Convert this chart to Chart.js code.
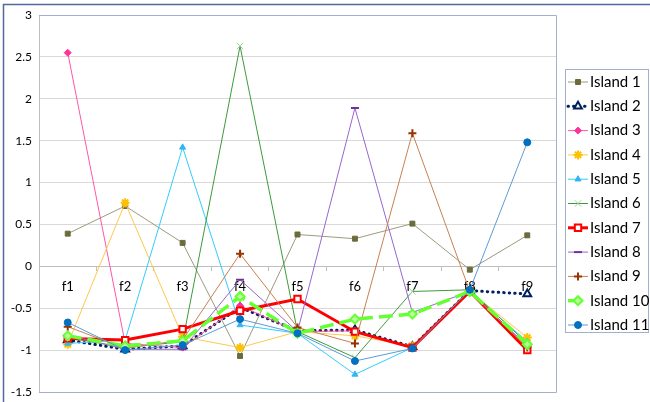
<!DOCTYPE html>
<html>
<head>
<meta charset="utf-8">
<script src="https://cdn.jsdelivr.net/npm/chart.js@4"></script>
<style>
  body { margin: 0; background: #fff; }
  #wrap { width: 650px; height: 402px; }
</style>
</head>
<body>
<div id="wrap"><canvas id="myChart" width="650" height="402"></canvas></div>
<script>
const categories = ['f1', 'f2', 'f3', 'f4', 'f5', 'f6', 'f7', 'f8', 'f9'];
const yTicks = [3, 2.5, 2, 1.5, 1, 0.5, 0, -0.5, -1, -1.5];

const island1 = [0.39, 0.72, 0.28, -1.07, 0.38, 0.33, 0.51, -0.04, 0.37];
const island2 = [-0.88, -0.99, -0.95, -0.49, -0.77, -0.76, -0.96, -0.29, -0.33];
const island3 = [2.55, -0.92, -0.97, -0.47, -0.78, -0.77, -0.97, -0.3, -0.96];
const island4 = [-0.93, 0.76, -0.84, -0.97, -0.78, -0.83, -0.95, -0.3, -0.85];
const island5 = [-0.92, -0.88, 1.42, -0.7, -0.8, -1.29, -0.97, -0.3, -0.9];
const island6 = [-0.85, -0.97, -0.9, 2.63, -0.78, -1.09, -0.3, -0.28, -0.92];
const island7 = [-0.86, -0.88, -0.75, -0.53, -0.39, -0.78, -0.97, -0.3, -1.0];
const island8 = [-0.82, -0.99, -0.99, -0.16, -0.78, 1.89, -0.55, -0.3, -0.95];
const island9 = [-0.72, -0.98, -0.88, 0.15, -0.73, -0.92, 1.59, -0.3, -0.97];
const island10 = [-0.83, -0.95, -0.89, -0.36, -0.8, -0.63, -0.57, -0.3, -0.93];
const island11 = [-0.67, -1.0, -0.94, -0.63, -0.8, -1.13, -0.98, -0.28, 1.48];

const font = 'Lato';

function series(label, data, line, opts) {
  return Object.assign({
    label: label,
    data: data,
    borderColor: line,
    borderWidth: 1,
    pointRadius: 3.5,
    pointBorderWidth: 1,
    tension: 0,
    fill: false
  }, opts);
}

const datasets = [
  series('Island 1', island1, '#9b9b7d', { pointStyle: 'rect', pointBackgroundColor: '#6b6b3c', pointBorderColor: '#6b6b3c', pointRadius: 3.5 }),
  series('Island 2', island2, '#002060', { borderWidth: 3, borderDash: [0.5, 5], borderCapStyle: 'round', pointStyle: 'triangle', pointRadius: 4.5, pointBorderWidth: 2, pointBackgroundColor: '#fff', pointBorderColor: '#002060' }),
  series('Island 3', island3, '#ff55aa', { pointStyle: 'rectRot', pointRadius: 3.5, pointBackgroundColor: '#ff3399', pointBorderColor: '#ff3399' }),
  series('Island 4', island4, '#ffc84a', { pointStyle: 'star', pointRadius: 4.5, pointBorderWidth: 2, pointBackgroundColor: '#ffc000', pointBorderColor: '#ffc000' }),
  series('Island 5', island5, '#33ccff', { pointStyle: 'triangle', pointRadius: 3.5, pointBackgroundColor: '#33b5f0', pointBorderColor: '#33b5f0' }),
  series('Island 6', island6, '#3c9a3c', { pointStyle: 'crossRot', pointRadius: 4.5, pointBackgroundColor: '#9fd09f', pointBorderColor: '#9fd09f' }),
  series('Island 7', island7, '#ff0000', { borderWidth: 3, pointStyle: 'rect', pointRadius: 4.5, pointBorderWidth: 2, pointBackgroundColor: '#fff', pointBorderColor: '#ff0000' }),
  series('Island 8', island8, '#9966cc', { pointStyle: 'line', pointRadius: 4, pointBorderWidth: 2, pointBackgroundColor: '#7030a0', pointBorderColor: '#7030a0' }),
  series('Island 9', island9, '#c88050', { pointStyle: 'cross', pointRadius: 4, pointBorderWidth: 2, pointBackgroundColor: '#993300', pointBorderColor: '#993300' }),
  series('Island 10', island10, '#66ff33', { borderWidth: 3.5, borderDash: [14, 6], pointStyle: 'rectRot', pointRadius: 4.5, pointBorderWidth: 2, pointBackgroundColor: '#b8ff99', pointBorderColor: '#66ff33' }),
  series('Island 11', island11, '#5b9bd5', { pointStyle: 'circle', pointRadius: 3.5, pointBackgroundColor: '#0070c0', pointBorderColor: '#0070c0' })
];
// later series are painted on top, as in the original
datasets.forEach((d, i) => { d.order = datasets.length - i; });

// frame, plot border and a legend with line + marker samples
const decor = {
  id: 'decor',
  beforeDraw(chart) {
    const ctx = chart.ctx;
    ctx.save();
    ctx.strokeStyle = '#51699a';
    ctx.lineWidth = 1.5;
    ctx.strokeRect(3.5, 4.5, 700, 450);
    ctx.restore();
  },
  afterDraw(chart) {
    const ctx = chart.ctx;
    const a = chart.chartArea;
    ctx.save();
    ctx.strokeStyle = '#a4afcb';
    ctx.lineWidth = 1;
    ctx.beginPath();
    ctx.moveTo(a.left, a.top + 0.5);
    ctx.lineTo(a.right + 0.5, a.top + 0.5);
    ctx.lineTo(a.right + 0.5, a.bottom + 0.5);
    ctx.lineTo(a.left, a.bottom + 0.5);
    ctx.stroke();

    // legend box
    const bx = 565.5, by = 69.5, bw = 83, bh = 263;
    ctx.fillStyle = '#fff';
    ctx.fillRect(bx, by, bw, bh);
    ctx.strokeStyle = '#a4afcb';
    ctx.strokeRect(bx, by, bw, bh);
    ctx.font = '15px ' + font;
    ctx.textBaseline = 'middle';
    chart.data.datasets.forEach((d, i) => {
      const y = 82 + i * 24.3;
      ctx.save();
      ctx.strokeStyle = d.borderColor;
      ctx.lineWidth = d.borderWidth;
      ctx.setLineDash(d.borderDash || []);
      ctx.lineCap = d.borderCapStyle || 'butt';
      ctx.beginPath();
      ctx.moveTo(568, y);
      ctx.lineTo(588, y);
      ctx.stroke();
      ctx.restore();
      ctx.save();
      ctx.fillStyle = d.pointBackgroundColor;
      ctx.strokeStyle = d.pointBorderColor;
      ctx.lineWidth = d.pointBorderWidth;
      Chart.helpers.drawPoint(ctx, { pointStyle: d.pointStyle, radius: d.pointRadius, borderWidth: d.pointBorderWidth, rotation: 0 }, 578, y);
      ctx.restore();
      ctx.fillStyle = '#000';
      ctx.fillText(d.label, 590, y);
    });
    ctx.restore();
  }
};

new Chart(document.getElementById('myChart'), {
  type: 'line',
  data: { labels: categories, datasets: datasets },
  plugins: [decor],
  options: {
    responsive: false,
    animation: false,
    layout: { padding: { left: 3, top: 15, right: 94, bottom: 10 } },
    plugins: {
      legend: { display: false },
      tooltip: { enabled: false }
    },
    scales: {
      x: {
        position: { y: 0 },
        offset: true,
        grid: { drawOnChartArea: false, drawTicks: true, tickLength: 4, color: '#bfbfbf', offset: true },
        border: { color: '#bfbfbf' },
        ticks: { color: '#000', font: { family: font, size: 13 }, padding: 9 }
      },
      y: {
        min: -1.5,
        max: 3,
        afterFit(scale) { scale.width = 36; scale.paddingTop = 0; scale.paddingBottom = 0; },
        afterBuildTicks(scale) { scale.ticks = yTicks.map(v => ({ value: v })); },
        grid: { color: '#d9d9d9', drawTicks: false },
        border: { color: '#bfbfbf' },
        ticks: { color: '#000', font: { family: font, size: 12 }, padding: 7, callback: v => String(v) }
      }
    }
  }
});
</script>
</body>
</html>
